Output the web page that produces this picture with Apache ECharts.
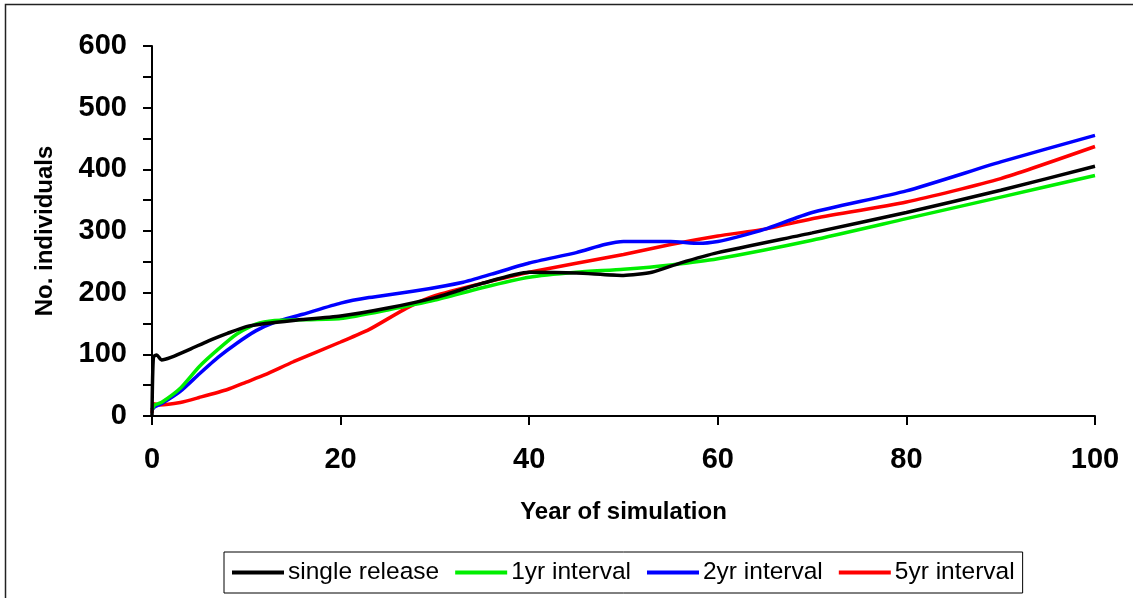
<!DOCTYPE html>
<html>
<head>
<meta charset="utf-8">
<script src="https://cdn.jsdelivr.net/npm/echarts@6/dist/echarts.min.js"></script>
<style>
  html, body { margin: 0; padding: 0; background: #fff; }
  #chart { width: 1133px; height: 598px; }
</style>
</head>
<body>
<div id="chart"></div>
<script>
  // values: [year, no. individuals]
  var singleRelease = [[0,0],[0.15,96],[0.5,99],[1,91],[2,95],[4,108],[6,122],[8,134],[10,145],[12,150],[15,155],[20,162],[25,175],[30,192],[35,215],[40,233],[45,232],[50,228],[53,233],[56,248],[60,265],[70,297],[80,330],[90,366],[100,405]];
  var oneYr = [[0,10],[0.3,18],[1,22],[3,45],[5,80],[7,108],[9,133],[11,149],[13,155],[16,156],[20,158],[25,172],[30,188],[35,208],[40,225],[45,233],[50,238],[55,245],[60,255],[70,285],[80,320],[90,355],[100,390]];
  var twoYr = [[0,10],[0.3,15],[1,20],[3,40],[5,68],[7,95],[9,118],[11,138],[13,152],[16,165],[20,183],[23,192],[28,203],[33,217],[36,230],[40,248],[45,265],[48,278],[50,283],[55,283],[58,280],[60,283],[62,290],[65,303],[70,330],[80,365],[90,412],[100,455]];
  var fiveYr = [[0,5],[0.2,20],[0.8,18],[3,22],[5,30],[8,43],[10,55],[12,67],[15,88],[20,120],[23,140],[27,175],[30,195],[35,215],[40,233],[50,262],[55,278],[60,292],[65,303],[70,320],[80,347],[90,385],[100,437]];

  var seriesNames = ['single release', '1yr interval', '2yr interval', '5yr interval'];
  var seriesColors = ['#000000', '#00ee00', '#0000ff', '#ff0000'];
  var seriesData = [singleRelease, oneYr, twoYr, fiveYr];

  var chart = echarts.init(document.getElementById('chart'), null, { renderer: 'canvas' });

  var font = "'Liberation Sans', Arial, sans-serif";

  var series = seriesNames.map(function (name, i) {
    return {
      name: name,
      type: 'line',
      data: seriesData[i],
      symbol: 'none',
      smooth: 0.2,
      lineStyle: { color: seriesColors[i], width: 3.5 },
      itemStyle: { color: seriesColors[i] },
      z: 10 - i
    };
  });

  var option = {
    animation: false,
    backgroundColor: '#fff',
    textStyle: { fontFamily: font },
    graphic: [{
      type: 'rect',
      shape: { x: 5.5, y: 4.5, width: 1200, height: 700 },
      style: { fill: null, stroke: '#222', lineWidth: 1.5 },
      silent: true
    }],
    grid: { left: 152, right: 38, top: 46, bottom: 182 },
    legend: {
      left: 224,
      top: 552,
      padding: [8, 8, 8, 8],
      borderColor: '#000',
      borderWidth: 1,
      itemWidth: 52,
      itemHeight: 4,
      itemGap: 16,
      icon: 'rect',
      textStyle: { fontFamily: font, fontSize: 24.5, color: '#000', padding: [0, 0, 0, -1] },
      data: seriesNames
    },
    xAxis: {
      type: 'value',
      min: 0,
      max: 100,
      interval: 20,
      name: 'Year of simulation',
      nameLocation: 'middle',
      nameGap: 84,
      nameTextStyle: { fontFamily: font, fontSize: 24, fontWeight: 'bold', color: '#000' },
      axisLine: { lineStyle: { color: '#000', width: 2 } },
      axisTick: { show: true, length: 9, lineStyle: { color: '#000', width: 2 } },
      axisLabel: { fontFamily: font, fontSize: 29, fontWeight: 'bold', color: '#000', margin: 29 },
      splitLine: { show: false }
    },
    yAxis: {
      type: 'value',
      min: 0,
      max: 600,
      interval: 100,
      name: 'No. individuals',
      nameLocation: 'middle',
      nameGap: 95,
      nameTextStyle: { fontFamily: font, fontSize: 24, fontWeight: 'bold', color: '#000' },
      axisLine: { show: true, lineStyle: { color: '#000', width: 2 } },
      axisTick: { show: true, length: 9, lineStyle: { color: '#000', width: 2 } },
      minorTick: { show: true, splitNumber: 2, length: 9, lineStyle: { color: '#000', width: 2 } },
      axisLabel: { fontFamily: font, fontSize: 29, fontWeight: 'bold', color: '#000', margin: 25 },
      splitLine: { show: false }
    },
    series: series
  };

  chart.setOption(option);
</script>
</body>
</html>
